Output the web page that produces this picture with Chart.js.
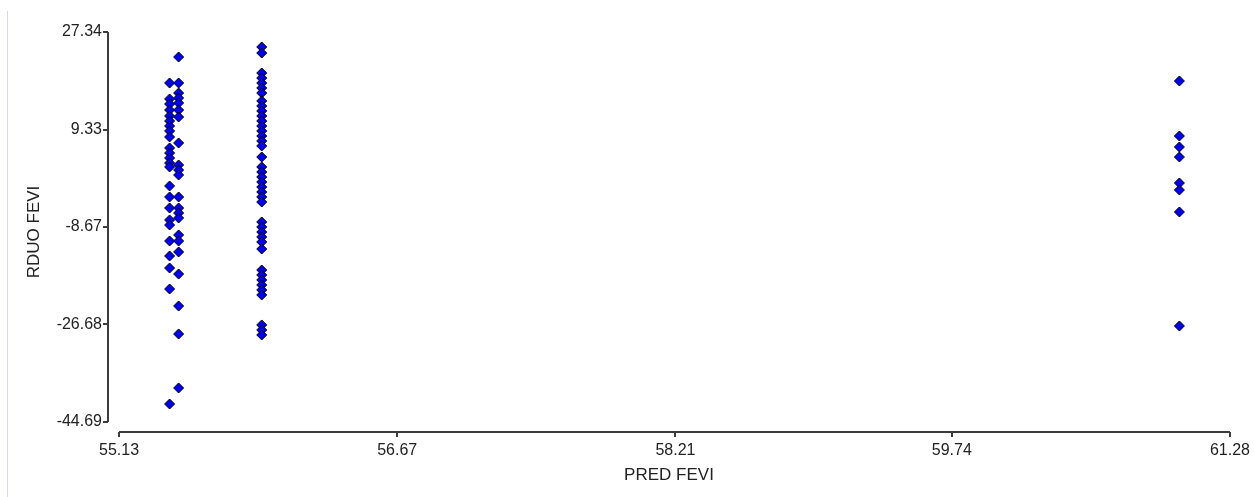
<!DOCTYPE html>
<html>
<head>
<meta charset="utf-8">
<script src="https://cdn.jsdelivr.net/npm/chart.js@4"></script>
<style>
  html, body { margin: 0; padding: 0; background: #fff; }
  #wrap { position: relative; width: 1254px; height: 497px; }
  #edge { position: absolute; left: 7px; top: 11px; width: 1px; height: 486px; background: #d3dbe8; }
  canvas { position: absolute; left: 0; top: 0; }
</style>
</head>
<body>
<div id="wrap">
  <div id="edge"></div>
  <canvas id="c" width="1254" height="497"></canvas>
</div>
<script>
// Predicted values (x) for each column of points
const predValues = [55.41, 55.46, 55.92, 61.00];
// Residuals (y) for each column
const residA = [17.92, 14.97, 14.04, 12.93, 11.83, 10.90, 9.98, 9.06, 7.95, 5.92, 4.99, 4.07, 3.15, 2.41, -1.10, -3.13, -5.17, -7.38, -8.31, -11.26, -14.03, -16.25, -20.13, -41.37];
const residB = [22.72, 17.92, 16.07, 15.15, 14.23, 12.93, 11.64, 6.84, 2.78, 1.85, 0.93, -3.13, -5.17, -6.09, -7.01, -10.15, -11.26, -13.29, -17.36, -23.27, -28.44, -38.41];
const residC = [24.57, 23.46, 19.77, 18.84, 17.92, 17.00, 16.07, 14.60, 13.67, 12.75, 11.83, 10.90, 9.98, 9.06, 8.13, 7.21, 6.29, 4.25, 2.41, 1.48, 0.56, -0.36, -1.29, -2.21, -3.13, -4.06, -7.75, -8.67, -9.60, -10.52, -11.44, -12.74, -16.62, -17.54, -18.46, -19.39, -20.31, -21.23, -26.77, -27.70, -28.62];
const residD = [18.29, 8.13, 6.10, 4.25, -0.55, -1.84, -5.90, -26.96];
const residColumns = [residA, residB, residC, residD];

const xTicks = [55.13, 56.67, 58.21, 59.74, 61.28];
const xTickLabels = ['55.13', '56.67', '58.21', '59.74', '61.28'];
const yTicks = [27.34, 9.33, -8.67, -26.68, -44.69];
const yTickLabels = ['27.34', '9.33', '-8.67', '-26.68', '-44.69'];

const xTitle = 'PRED FEVI';
const yTitle = 'RDUO FEVI';

const points = [];
residColumns.forEach((col, i) => col.forEach(v => points.push({ x: predValues[i], y: v })));

const axisColor = '#3c3c3c';
const fontFam = '"Liberation Sans", Arial, sans-serif';

const axisLines = {
  id: 'axisLines',
  afterDraw(chart) {
    const { ctx, chartArea, scales } = chart;
    ctx.save();
    ctx.strokeStyle = axisColor;
    ctx.lineWidth = 2;
    ctx.beginPath();
    const y0 = scales.y.getPixelForValue(yTicks[0]);
    const y1 = scales.y.getPixelForValue(yTicks[yTicks.length - 1]);
    ctx.moveTo(chartArea.left, y0);
    ctx.lineTo(chartArea.left, y1);
    const x0 = scales.x.getPixelForValue(xTicks[0]);
    const x1 = scales.x.getPixelForValue(xTicks[xTicks.length - 1]);
    ctx.moveTo(x0, chartArea.bottom);
    ctx.lineTo(x1, chartArea.bottom);
    ctx.stroke();
    ctx.restore();
  }
};

new Chart(document.getElementById('c'), {
  type: 'scatter',
  data: {
    datasets: [{
      data: points,
      pointStyle: 'rectRot',
      pointRadius: 5,
      pointHoverRadius: 5,
      backgroundColor: '#0000f5',
      borderColor: '#000000',
      borderWidth: 1,
      clip: false
    }]
  },
  options: {
    responsive: false,
    animation: false,
    events: [],
    layout: { padding: { left: 0, top: 32, right: 24, bottom: 0 } },
    plugins: { legend: { display: false }, tooltip: { enabled: false } },
    scales: {
      x: {
        type: 'linear',
        min: 55.069,
        max: 61.28,
        afterBuildTicks: s => { s.ticks = xTicks.map(v => ({ value: v })); },
        afterFit: s => { s.height = 65; },
        ticks: {
          autoSkip: false, maxRotation: 0, padding: 4,
          color: '#222', font: { family: fontFam, size: 16 },
          callback: (v, i) => xTickLabels[i]
        },
        grid: { drawOnChartArea: false, drawTicks: true, tickLength: 5, color: axisColor, lineWidth: 2 },
        border: { display: false },
        title: { display: true, text: xTitle, color: '#222', font: { family: fontFam, size: 17 }, padding: { top: 0, bottom: 11 } }
      },
      y: {
        type: 'linear',
        min: -46.54,
        max: 27.34,
        afterBuildTicks: s => { s.ticks = yTicks.map(v => ({ value: v })); },
        afterFit: s => { s.width = 108; },
        ticks: {
          autoSkip: false, padding: 1,
          color: '#222', font: { family: fontFam, size: 16 },
          callback: (v, i) => yTickLabels[i]
        },
        grid: { drawOnChartArea: false, drawTicks: true, tickLength: 5, color: axisColor, lineWidth: 2 },
        border: { display: false },
        title: { display: true, text: yTitle, color: '#222', font: { family: fontFam, size: 17 }, padding: { top: 24, bottom: 0 } }
      }
    }
  },
  plugins: [axisLines]
});
</script>
</body>
</html>
